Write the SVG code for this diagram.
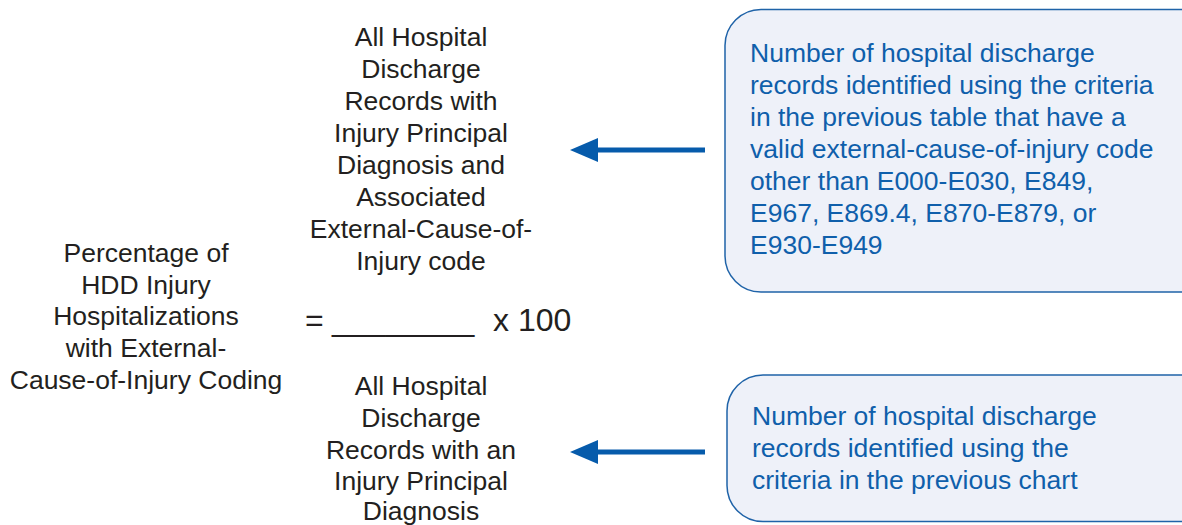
<svg xmlns="http://www.w3.org/2000/svg" width="1182" height="525" viewBox="0 0 1182 525">
<defs>
<style>
.g{font-family:"Liberation Sans",Arial,sans-serif;font-size:26.5px;fill:#231f20;text-anchor:middle}
.b{font-family:"Liberation Sans",Arial,sans-serif;font-size:26.5px;fill:#0f5fab}
.box{fill:#eef1f9;stroke:#1f63a8;stroke-width:1.5}
.arr{stroke:#065bab;stroke-width:5;fill:none}
.head{fill:#065bab}
</style>
</defs>
<rect width="1182" height="525" fill="#ffffff"/>
<g id="label-left">
<text class="g" x="146" y="262">Percentage of</text>
<text class="g" x="146" y="294">HDD Injury</text>
<text class="g" x="146" y="325">Hospitalizations</text>
<text class="g" x="146" y="357">with External-</text>
<text class="g" x="146" y="389">Cause-of-Injury Coding</text>
</g>
<g id="numerator">
<text class="g" x="421" y="46">All Hospital</text>
<text class="g" x="421" y="78">Discharge</text>
<text class="g" x="421" y="110">Records with</text>
<text class="g" x="421" y="142">Injury Principal</text>
<text class="g" x="421" y="174">Diagnosis and</text>
<text class="g" x="421" y="206">Associated</text>
<text class="g" x="421" y="238">External-Cause-of-</text>
<text class="g" x="421" y="270">Injury code</text>
</g>
<g id="fraction">
<text y="331" style="font-family:'Liberation Sans',Arial,sans-serif;font-size:32px;fill:#231f20"><tspan x="305">= </tspan><tspan x="332">________ </tspan><tspan x="493">x 100</tspan></text>
</g>
<g id="denominator">
<text class="g" x="421" y="395">All Hospital</text>
<text class="g" x="421" y="427">Discharge</text>
<text class="g" x="421" y="459">Records with an</text>
<text class="g" x="421" y="490">Injury Principal</text>
<text class="g" x="421" y="520">Diagnosis</text>
</g>
<g id="note-top">
<rect class="box" x="725" y="9.5" width="490" height="282.5" rx="36" ry="36"/>
<text class="b" x="750" y="62">Number of hospital discharge</text>
<text class="b" x="750" y="94">records identified using the criteria</text>
<text class="b" x="750" y="126">in the previous table that have a</text>
<text class="b" x="750" y="158">valid external-cause-of-injury code</text>
<text class="b" x="750" y="190">other than E000-E030, E849,</text>
<text class="b" x="750" y="222">E967, E869.4, E870-E879, or</text>
<text class="b" x="750" y="254">E930-E949</text>
</g>
<g id="note-bottom">
<rect class="box" x="727" y="375" width="490" height="146.5" rx="36" ry="36"/>
<text class="b" x="752" y="425">Number of hospital discharge</text>
<text class="b" x="752" y="457">records identified using the</text>
<text class="b" x="752" y="489">criteria in the previous chart</text>
</g>
<g id="connectors">
<line class="arr" x1="705" y1="150" x2="596" y2="150"/>
<polygon class="head" points="570,150 598,138 598,162"/>
<line class="arr" x1="705" y1="452" x2="596" y2="452"/>
<polygon class="head" points="570,452 598,440 598,464"/>
</g>
</svg>
